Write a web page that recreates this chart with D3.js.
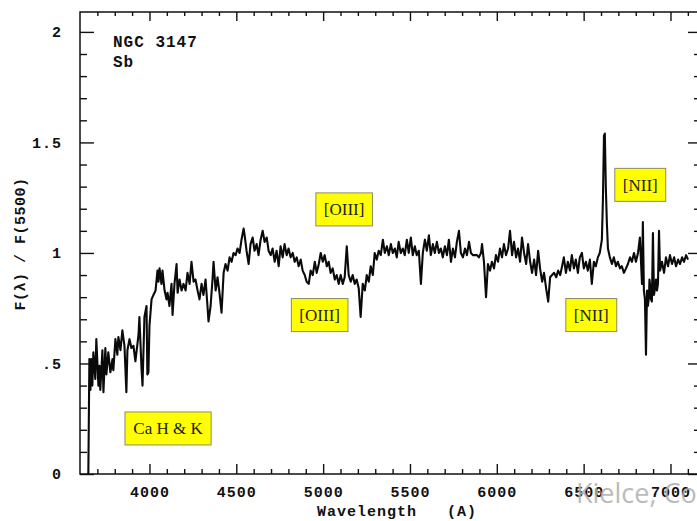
<!DOCTYPE html>
<html>
<head>
<meta charset="utf-8">
<script src="https://cdn.jsdelivr.net/npm/d3@7"></script>
<style>
  body { margin: 0; background: #fff; }
  .mono { font-family: "Liberation Mono", "DejaVu Sans Mono", monospace; font-weight: bold; fill: #111; }
  .axis path { stroke: none; }
  .axis line { stroke: #111; stroke-width: 1.4; }
</style>
</head>
<body>
<div id="chart-area"></div>
<script>
/*
*    NGC 3147 (Sb) spectrum, F(lambda) / F(5500)
*/

// [wavelength (A), relative flux]
let spectrum = [
  [3648, 0.0], [3654, 0.52], [3660, 0.38], [3665, 0.52], [3671, 0.40], [3677, 0.55],
  [3688, 0.43], [3694, 0.61], [3706, 0.40], [3712, 0.49], [3717, 0.38], [3729, 0.56],
  [3735, 0.37], [3746, 0.57], [3752, 0.45], [3763, 0.55], [3775, 0.46], [3787, 0.52],
  [3792, 0.47], [3804, 0.61], [3815, 0.54], [3821, 0.62], [3833, 0.56], [3844, 0.65],
  [3856, 0.58], [3867, 0.37], [3873, 0.56], [3885, 0.61], [3896, 0.57], [3908, 0.58],
  [3919, 0.51], [3925, 0.55], [3937, 0.63], [3942, 0.71], [3954, 0.48], [3960, 0.40],
  [3971, 0.71], [3983, 0.76], [3988, 0.45], [3994, 0.46], [4000, 0.67], [4012, 0.79],
  [4023, 0.81], [4035, 0.83], [4046, 0.92], [4052, 0.87], [4058, 0.93], [4069, 0.86],
  [4075, 0.92], [4087, 0.83], [4098, 0.79], [4104, 0.82], [4115, 0.76], [4127, 0.86],
  [4133, 0.72], [4144, 0.86], [4156, 0.95], [4162, 0.82], [4173, 0.88], [4185, 0.83],
  [4196, 0.86], [4208, 0.83], [4219, 0.91], [4231, 0.86], [4242, 0.96], [4254, 0.87],
  [4265, 0.88], [4277, 0.83], [4288, 0.79], [4300, 0.86], [4311, 0.81], [4323, 0.88],
  [4334, 0.76], [4340, 0.69], [4352, 0.76], [4363, 0.88], [4369, 0.96], [4381, 0.83],
  [4392, 0.89], [4403, 0.82], [4415, 0.73], [4427, 0.91], [4438, 0.95], [4450, 0.92],
  [4461, 0.98], [4473, 0.96], [4484, 1.00], [4496, 0.99], [4507, 1.02], [4519, 1.00],
  [4530, 1.06], [4542, 1.11], [4548, 1.08], [4559, 1.01], [4571, 0.95], [4582, 1.04],
  [4594, 1.07], [4605, 1.01], [4617, 1.04], [4628, 0.99], [4640, 1.06], [4652, 1.10],
  [4663, 1.05], [4675, 1.07], [4686, 1.01], [4698, 0.99], [4709, 1.02], [4721, 0.96],
  [4732, 1.01], [4744, 0.94], [4755, 1.03], [4767, 0.98], [4778, 1.04], [4790, 0.99],
  [4801, 1.02], [4813, 0.98], [4825, 1.00], [4836, 0.96], [4848, 0.98], [4859, 0.94],
  [4871, 0.97], [4882, 0.92], [4894, 0.90], [4905, 0.87], [4917, 0.86], [4928, 0.92],
  [4940, 0.90], [4952, 0.96], [4963, 0.91], [4975, 0.95], [4986, 1.00], [4998, 0.96],
  [5009, 0.99], [5021, 0.94], [5032, 0.96], [5043, 0.91], [5055, 0.93], [5067, 0.88],
  [5078, 0.90], [5090, 0.86], [5101, 0.90], [5113, 0.86], [5124, 0.89], [5136, 1.03],
  [5147, 0.90], [5159, 0.87], [5170, 0.90], [5182, 0.86], [5193, 0.88], [5205, 0.84],
  [5216, 0.71], [5228, 0.86], [5240, 0.83], [5251, 0.90], [5263, 0.87], [5274, 0.94],
  [5286, 0.90], [5297, 1.00], [5309, 0.97], [5320, 1.01], [5332, 0.99], [5344, 1.06],
  [5355, 1.00], [5367, 1.03], [5378, 0.99], [5390, 1.04], [5401, 1.00], [5413, 1.02],
  [5424, 0.98], [5435, 1.05], [5447, 1.00], [5459, 1.02], [5470, 0.99], [5482, 1.06],
  [5493, 1.00], [5505, 1.07], [5516, 0.99], [5528, 1.03], [5539, 0.99], [5551, 1.01],
  [5563, 0.86], [5574, 1.00], [5586, 1.06], [5597, 1.01], [5609, 1.08], [5620, 0.99],
  [5632, 1.04], [5643, 1.00], [5655, 1.05], [5667, 1.00], [5678, 1.02], [5689, 0.98],
  [5701, 1.03], [5713, 0.99], [5724, 1.06], [5736, 0.96], [5747, 1.02], [5759, 0.98],
  [5770, 1.05], [5782, 1.10], [5793, 1.00], [5805, 0.98], [5817, 1.02], [5828, 0.99],
  [5840, 1.05], [5851, 1.00], [5863, 0.99], [5874, 0.99], [5886, 0.99], [5897, 0.98],
  [5909, 1.00], [5915, 1.04], [5926, 0.96], [5938, 0.80], [5949, 0.95], [5961, 0.92],
  [5972, 0.96], [5984, 0.93], [5995, 0.99], [6007, 0.96], [6018, 1.02], [6030, 0.98],
  [6041, 1.04], [6053, 0.99], [6065, 1.02], [6076, 1.10], [6088, 0.99], [6099, 1.05],
  [6111, 0.98], [6122, 1.02], [6134, 0.96], [6145, 1.07], [6157, 1.00], [6169, 0.95],
  [6180, 1.04], [6192, 0.96], [6203, 0.91], [6215, 0.97], [6226, 0.90], [6238, 1.01],
  [6249, 0.93], [6261, 0.87], [6272, 0.91], [6284, 0.84], [6296, 0.78], [6307, 0.89],
  [6318, 0.90], [6330, 0.91], [6342, 0.89], [6353, 0.92], [6365, 0.90], [6376, 0.94],
  [6386, 0.98], [6398, 0.91], [6409, 0.96], [6421, 0.92], [6432, 0.99], [6444, 0.93],
  [6455, 0.97], [6467, 0.91], [6478, 0.98], [6490, 1.00], [6501, 0.93], [6513, 0.96],
  [6524, 0.92], [6536, 0.97], [6547, 0.86], [6559, 0.96], [6570, 0.94], [6582, 0.98],
  [6593, 1.00], [6605, 1.06], [6611, 1.24], [6617, 1.53], [6622, 1.54], [6628, 1.29],
  [6634, 1.13], [6640, 1.02], [6651, 0.98], [6663, 0.95], [6674, 0.98], [6686, 0.94],
  [6697, 0.96], [6709, 0.93], [6720, 0.94], [6732, 0.91], [6744, 0.93], [6755, 0.95],
  [6767, 0.98], [6778, 0.96], [6790, 1.00], [6801, 0.96], [6813, 1.00], [6824, 1.07],
  [6836, 0.86], [6841, 1.14], [6847, 0.83], [6853, 0.79], [6859, 0.54], [6865, 0.83],
  [6870, 0.76], [6876, 0.80], [6879, 0.88], [6882, 0.86], [6888, 0.79], [6893, 0.78],
  [6899, 1.09], [6905, 0.81], [6911, 0.84], [6917, 0.88], [6922, 0.83], [6928, 0.86],
  [6934, 1.10], [6940, 0.92], [6951, 0.96], [6963, 0.91], [6974, 0.98],
  [6986, 0.94], [6997, 0.99], [7009, 0.95], [7021, 0.98], [7032, 0.94], [7044, 0.97],
  [7055, 0.95], [7067, 0.98], [7078, 0.96], [7090, 0.99], [7101, 0.97]
];

let xTicks = [4000, 4500, 5000, 5500, 6000, 6500, 7000];
let xTickLabels = ["4000", "4500", "5000", "5500", "6000", "6500", "7000"];
let yTicks = [0, 0.5, 1, 1.5, 2];
let yTickLabels = ["0", ".5", "1", "1.5", "2"];

// line identifications (label, wavelength, flux at box centre)
let notes = [
  { text: "Ca H & K", lambda: 4107, flux: 0.206 },
  { text: "[OIII]", lambda: 5121, flux: 1.197 },
  { text: "[OIII]", lambda: 4980, flux: 0.719 },
  { text: "[NII]", lambda: 6826, flux: 1.308 },
  { text: "[NII]", lambda: 6544, flux: 0.719 }
];

let W = 697, H = 521;
let plot = { left: 80, right: 700, top: 12, bottom: 474 };

let svg = d3.select("#chart-area")
    .append("svg")
    .attr("width", W)
    .attr("height", H);

let x = d3.scaleLinear()
    .domain([3600, 7170])
    .range([plot.left, plot.right]);

let y = d3.scaleLinear()
    .domain([0, 2.09])
    .range([plot.bottom, plot.top]);

let minorX = d3.range(3700, 7200, 100).filter(function(d){ return d % 500 !== 0 });
let minorY = d3.range(0.1, 2.09, 0.1).filter(function(d){ return Math.abs(d * 2 - Math.round(d * 2)) > 0.01 });

// frame
svg.append("rect")
    .attr("x", plot.left)
    .attr("y", plot.top)
    .attr("width", plot.right - plot.left)
    .attr("height", plot.bottom - plot.top)
    .attr("fill", "none")
    .attr("stroke", "#111")
    .attr("stroke-width", 1.5);

// bottom axis (major with labels, then minor)
let xAxis = svg.append("g")
    .attr("class", "axis")
    .attr("transform", "translate(0," + plot.bottom + ")")
    .call(d3.axisBottom(x)
        .tickValues(xTicks)
        .tickSize(-10)
        .tickPadding(12)
        .tickFormat(function(d, i){ return xTickLabels[i] }));
xAxis.selectAll("text")
    .attr("class", "mono")
    .style("font-size", "15px")
    .style("letter-spacing", "1px");

svg.append("g")
    .attr("class", "axis")
    .attr("transform", "translate(0," + plot.bottom + ")")
    .call(d3.axisBottom(x).tickValues(minorX).tickSize(-5).tickFormat(""));

// top axis
svg.append("g")
    .attr("class", "axis")
    .attr("transform", "translate(0," + plot.top + ")")
    .call(d3.axisTop(x).tickValues(xTicks).tickSize(-9).tickFormat(""));
svg.append("g")
    .attr("class", "axis")
    .attr("transform", "translate(0," + plot.top + ")")
    .call(d3.axisTop(x).tickValues(minorX).tickSize(-4).tickFormat(""));

// left axis
let yAxis = svg.append("g")
    .attr("class", "axis")
    .attr("transform", "translate(" + plot.left + ",0)")
    .call(d3.axisLeft(y)
        .tickValues(yTicks)
        .tickSize(-14)
        .tickPadding(18)
        .tickFormat(function(d, i){ return yTickLabels[i] }));
yAxis.selectAll("text")
    .attr("class", "mono")
    .style("font-size", "15px")
    .style("letter-spacing", "1px");

svg.append("g")
    .attr("class", "axis")
    .attr("transform", "translate(" + plot.left + ",0)")
    .call(d3.axisLeft(y).tickValues(minorY).tickSize(-7).tickFormat(""));

// right axis
svg.append("g")
    .attr("class", "axis")
    .attr("transform", "translate(" + plot.right + ",0)")
    .call(d3.axisRight(y).tickValues(yTicks).tickSize(-12).tickFormat(""));
svg.append("g")
    .attr("class", "axis")
    .attr("transform", "translate(" + plot.right + ",0)")
    .call(d3.axisRight(y).tickValues(minorY).tickSize(-6).tickFormat(""));

// spectrum
svg.append("path")
    .datum(spectrum)
    .attr("fill", "none")
    .attr("stroke", "#0a0a0a")
    .attr("stroke-width", 2.1)
    .attr("stroke-linejoin", "round")
    .attr("d", d3.line()
        .x(function(d){ return x(d[0]) })
        .y(function(d){ return y(d[1]) }));

// titles
svg.append("text")
    .attr("class", "mono")
    .attr("x", 113)
    .attr("y", 47)
    .style("font-size", "16px")
    .style("letter-spacing", "1px")
    .text("NGC 3147");

svg.append("text")
    .attr("class", "mono")
    .attr("x", 113)
    .attr("y", 67)
    .style("font-size", "16px")
    .style("letter-spacing", "1px")
    .text("Sb");

// X Label
svg.append("text")
    .attr("class", "mono")
    .attr("x", 317)
    .attr("y", 516)
    .style("font-size", "15px")
    .style("letter-spacing", "1px")
    .style("white-space", "pre")
    .text("Wavelength   (A)");

// Y Label
svg.append("text")
    .attr("class", "mono")
    .attr("transform", "translate(25,244) rotate(-90)")
    .attr("text-anchor", "middle")
    .style("font-size", "15px")
    .style("letter-spacing", "0.5px")
    .text("F(λ) / F(5500)");

// yellow annotation boxes
let noteG = svg.selectAll(".note")
    .data(notes)
    .enter()
    .append("g")
    .attr("class", "note")
    .attr("transform", function(d){ return "translate(" + x(d.lambda) + "," + y(d.flux) + ")" });

noteG.append("rect");
noteG.append("text")
    .attr("text-anchor", "middle")
    .attr("dy", "0.35em")
    .style("font-family", "'Liberation Serif', 'DejaVu Serif', serif")
    .style("font-size", "17px")
    .style("fill", "#222")
    .text(function(d){ return d.text });

noteG.each(function(){
    let g = d3.select(this);
    let bb = g.select("text").node().getBBox();
    g.select("rect")
        .attr("x", -bb.width / 2 - 8)
        .attr("y", -16.5)
        .attr("width", bb.width + 16)
        .attr("height", 33)
        .attr("fill", "#ffff00")
        .attr("stroke", "#8c8c66")
        .attr("stroke-width", 1);
});

// watermark (overlaps the 6500 / 7000 labels in the original too)
svg.append("text")
    .attr("x", 576)
    .attr("y", 503)
    .style("font-family", "'Open Sans', 'Noto Sans', sans-serif")
    .style("font-size", "27px")
    .style("fill", "#b0b0b0")
    .style("opacity", 0.85)
    .text("Kielce, Co");
</script>
</body>
</html>
